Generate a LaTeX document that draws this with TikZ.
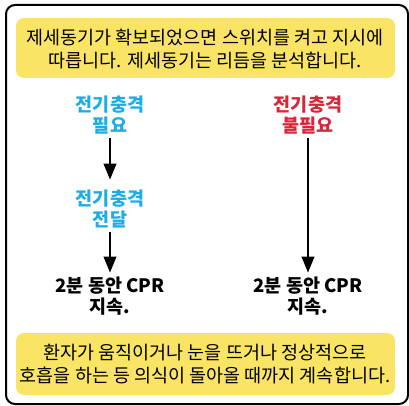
\documentclass[tikz,border=0pt]{standalone}
\usepackage{fontspec}
\setmainfont{Noto Sans CJK KR}
\usetikzlibrary{arrows.meta}
\definecolor{notebg}{RGB}{250,228,102}
\definecolor{shockblue}{RGB}{30,172,232}
\definecolor{shockred}{RGB}{214,40,58}
\tikzset{
  note/.style={align=center, font=\fontsize{18.5}{23}\selectfont},
  label/.style={align=center, font=\fontsize{18.5}{21}\selectfont\bfseries, inner sep=4pt},
  flow/.style={line width=2.2pt, -{Triangle[length=16pt,width=12.5pt]}}
}
\begin{document}
\begin{tikzpicture}[x=1pt,y=-1pt]
      \useasboundingbox (0,0) rectangle (409,406);
      \draw[line width=2pt, rounded corners=9pt] (6,5) rectangle (408,404);
      \fill[notebg, rounded corners=8pt] (16,18) rectangle (395,78);
      \fill[notebg, rounded corners=8pt] (16,333) rectangle (395,395);
      \draw
        (205,49) node[note] (top){제세동기가 확보되었으면 스위치를 켜고 지시에\\따릅니다. 제세동기는 리듬을 분석합니다.}
        (110,115) node[label, text=shockblue] (need){전기충격\\필요}
        (110,209) node[label, text=shockblue] (deliver){전기충격\\전달}
        (110,296) node[label] (cprA){2분 동안 CPR\\지속.}
        (308,115) node[label, text=shockred] (noneed){전기충격\\불필요}
        (308,296) node[label] (cprB){2분 동안 CPR\\지속.}
        (205,364) node[note] (bottom){환자가 움직이거나 눈을 뜨거나 정상적으로\\호흡을 하는 등 의식이 돌아올 때까지 계속합니다.};
      \begin{scope}[flow]
        \draw[shorten >=6pt] (need) to (deliver);
        \draw (deliver) to (cprA);
        \draw (noneed) to (cprB);
      \end{scope}
    \end{tikzpicture}
\end{document}
